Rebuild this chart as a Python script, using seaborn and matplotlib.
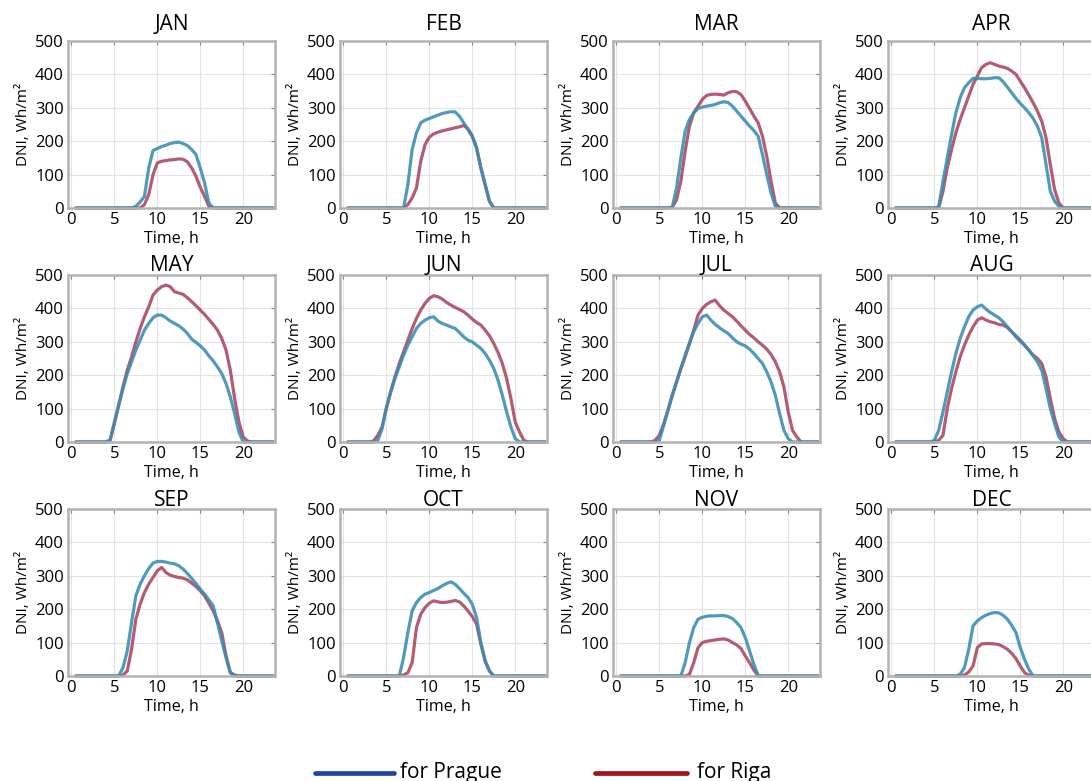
import numpy as np
import pandas as pd
import matplotlib
matplotlib.use("Agg")
import matplotlib.pyplot as plt
from matplotlib.lines import Line2D
import seaborn as sns

# ---------------- data ----------------
time_h = [0.5, 1.0, 1.5, 2.0, 2.5, 3.0, 3.5, 4.0, 4.5, 5.0, 5.5, 6.0, 6.5, 7.0, 7.5, 8.0,
          8.5, 9.0, 9.5, 10.0, 10.5, 11.0, 11.5, 12.0, 12.5, 13.0, 13.5, 14.0, 14.5, 15.0,
          15.5, 16.0, 16.5, 17.0, 17.5, 18.0, 18.5, 19.0, 19.5, 20.0, 20.5, 21.0, 21.5,
          22.0, 22.5, 23.0, 23.5]

months = ["JAN", "FEB", "MAR", "APR", "MAY", "JUN",
          "JUL", "AUG", "SEP", "OCT", "NOV", "DEC"]

legend_labels = ["for Prague", "for Riga"]

prague_jan = [0, 0, 0, 0, 0, 0, 0, 0, 0, 0, 0, 0, 0, 0,
              5, 18, 35, 120, 172, 178, 184, 188, 193, 196, 197, 193, 187, 175, 160, 120, 75, 15, 0,
              0, 0, 0, 0, 0, 0, 0, 0, 0, 0, 0, 0, 0, 0]
riga_jan = [0, 0, 0, 0, 0, 0, 0, 0, 0, 0, 0, 0, 0, 0, 0,
            0, 10, 40, 100, 135, 140, 142, 144, 145, 147, 146, 138, 120, 95, 62, 35, 5, 0,
            0, 0, 0, 0, 0, 0, 0, 0, 0, 0, 0, 0, 0, 0]

prague_feb = [0, 0, 0, 0, 0, 0, 0, 0, 0, 0, 0, 0, 0,
              0, 70, 175, 225, 255, 263, 268, 273, 278, 283, 286, 288, 288, 275, 255, 235, 215,
              180, 120, 70, 20, 0,
              0, 0, 0, 0, 0, 0, 0, 0, 0, 0, 0, 0]
riga_feb = [0, 0, 0, 0, 0, 0, 0, 0, 0, 0, 0, 0, 0,
            0, 10, 30, 60, 140, 190, 212, 222, 227, 231, 234, 237, 240, 243, 247, 237, 215,
            180, 120, 70, 20, 0,
            0, 0, 0, 0, 0, 0, 0, 0, 0, 0, 0, 0]

prague_mar = [0, 0, 0, 0, 0, 0, 0, 0, 0, 0, 0,
              0, 2, 60, 150, 230, 265, 285, 298, 302, 305, 307, 310, 315, 318, 316, 305, 290,
              275, 260, 245, 232, 215, 160, 100, 45, 5, 0,
              0, 0, 0, 0, 0, 0, 0, 0, 0]
riga_mar = [0, 0, 0, 0, 0, 0, 0, 0, 0, 0, 0,
            0, 2, 25, 80, 170, 245, 285, 305, 325, 337, 340, 341, 340, 338, 345, 349, 348,
            340, 320, 298, 275, 255, 215, 155, 80, 15, 0,
            0, 0, 0, 0, 0, 0, 0, 0, 0]

prague_apr = [0, 0, 0, 0, 0, 0, 0, 0, 0,
              0, 3, 80, 150, 220, 285, 330, 360, 375, 388, 388, 387, 387, 388, 390, 390, 378,
              362, 345, 328, 313, 300, 285, 268, 245, 210, 130, 50, 20, 5, 0,
              0, 0, 0, 0, 0, 0, 0]
riga_apr = [0, 0, 0, 0, 0, 0, 0, 0, 0, 0,
            0, 50, 120, 175, 225, 265, 300, 335, 370, 395, 420, 430, 435, 430, 425, 422, 418,
            410, 400, 380, 360, 338, 315, 290, 260, 210, 130, 55, 15, 0,
            0, 0, 0, 0, 0, 0, 0]

prague_may = [0, 0, 0, 0, 0, 0, 0,
              0, 5, 60, 110, 160, 205, 240, 275, 305, 335, 355, 372, 380, 380, 372, 362, 355,
              348, 338, 325, 308, 298, 288, 275, 258, 243, 225, 205, 175, 135, 85, 30, 0,
              0, 0, 0, 0, 0, 0, 0]
riga_may = [0, 0, 0, 0, 0, 0, 0,
            0, 5, 55, 110, 165, 215, 255, 300, 340, 375, 405, 440, 455, 465, 470, 465, 450,
            446, 442, 432, 420, 408, 395, 382, 367, 352, 335, 310, 275, 215, 130, 60, 15, 3, 0,
            0, 0, 0, 0, 0]

prague_jun = [0, 0, 0, 0, 0, 0,
              0, 5, 40, 105, 150, 190, 225, 260, 290, 315, 340, 355, 365, 372, 375, 362, 355,
              350, 345, 340, 328, 315, 305, 300, 290, 280, 265, 245, 220, 185, 140, 90, 45, 10, 0,
              0, 0, 0, 0, 0, 0]
riga_jun = [0, 0, 0, 0, 0,
            0, 3, 20, 45, 100, 150, 195, 235, 270, 305, 340, 370, 395, 415, 430, 438, 435, 428,
            418, 410, 403, 397, 390, 380, 368, 358, 350, 335, 318, 295, 268, 235, 190, 130, 60,
            30, 5, 0,
            0, 0, 0, 0]

prague_jul = [0, 0, 0, 0, 0, 0, 0, 0,
              0, 5, 50, 95, 140, 180, 220, 260, 295, 330, 355, 375, 380, 365, 352, 342, 333,
              325, 312, 300, 293, 288, 278, 265, 250, 235, 210, 180, 140, 85, 35, 10, 0,
              0, 0, 0, 0, 0, 0]
riga_jul = [0, 0, 0, 0, 0, 0, 0,
            0, 5, 20, 55, 95, 140, 180, 220, 255, 295, 335, 380, 400, 412, 420, 425, 408, 395,
            385, 375, 362, 348, 335, 322, 312, 300, 290, 278, 262, 240, 210, 165, 90, 35, 15, 0,
            0, 0, 0, 0]

prague_aug = [0, 0, 0, 0, 0, 0, 0, 0,
              0, 5, 35, 90, 150, 210, 265, 310, 345, 375, 395, 405, 410, 398, 388, 380, 372,
              360, 345, 330, 318, 305, 290, 275, 258, 240, 215, 160, 100, 55, 15, 0,
              0, 0, 0, 0, 0, 0, 0]
riga_aug = [0, 0, 0, 0, 0, 0, 0, 0, 0,
            0, 5, 20, 100, 160, 210, 255, 290, 320, 345, 365, 372, 365, 360, 357, 352, 350,
            343, 330, 315, 302, 290, 275, 260, 250, 235, 195, 130, 70, 30, 10, 0,
            0, 0, 0, 0, 0, 0]

prague_sep = [0, 0, 0, 0, 0, 0, 0, 0, 0, 0,
              0, 25, 75, 160, 240, 275, 300, 322, 338, 343, 343, 341, 338, 336, 330, 320, 307,
              292, 277, 260, 245, 228, 210, 160, 105, 55, 10, 0,
              0, 0, 0, 0, 0, 0, 0, 0, 0]
riga_sep = [0, 0, 0, 0, 0, 0, 0, 0, 0, 0,
            0, 3, 15, 80, 170, 215, 250, 275, 295, 315, 325, 310, 302, 298, 295, 293, 288, 278,
            268, 255, 240, 218, 195, 165, 130, 60, 10, 3, 0,
            0, 0, 0, 0, 0, 0, 0, 0]

prague_oct = [0, 0, 0, 0, 0, 0, 0, 0, 0, 0, 0, 0,
              0, 55, 130, 195, 220, 235, 245, 250, 256, 262, 270, 277, 282, 275, 262, 248, 235,
              215, 175, 100, 45, 15, 0,
              0, 0, 0, 0, 0, 0, 0, 0, 0, 0, 0, 0]
riga_oct = [0, 0, 0, 0, 0, 0, 0, 0, 0, 0, 0, 0,
            0, 3, 10, 40, 145, 185, 205, 218, 225, 222, 220, 221, 223, 226, 222, 210, 195, 178,
            155, 95, 45, 15, 0,
            0, 0, 0, 0, 0, 0, 0, 0, 0, 0, 0, 0]

prague_nov = [0, 0, 0, 0, 0, 0, 0, 0, 0, 0, 0, 0, 0, 0,
              0, 40, 100, 145, 170, 176, 179, 180, 180, 181, 181, 178, 172, 160, 145, 115, 75, 35, 0,
              0, 0, 0, 0, 0, 0, 0, 0, 0, 0, 0, 0, 0, 0]
riga_nov = [0, 0, 0, 0, 0, 0, 0, 0, 0, 0, 0, 0, 0, 0, 0,
            0, 5, 40, 85, 100, 104, 106, 108, 110, 111, 108, 100, 93, 82, 60, 40, 18, 0,
            0, 0, 0, 0, 0, 0, 0, 0, 0, 0, 0, 0, 0, 0]

prague_dec = [0, 0, 0, 0, 0, 0, 0, 0, 0, 0, 0, 0, 0, 0,
              0, 5, 25, 80, 150, 165, 175, 182, 187, 190, 189, 182, 170, 152, 130, 85, 50, 20, 0,
              0, 0, 0, 0, 0, 0, 0, 0, 0, 0, 0, 0, 0, 0]
riga_dec = [0, 0, 0, 0, 0, 0, 0, 0, 0, 0, 0, 0, 0, 0, 0,
            0, 3, 12, 30, 85, 96, 97, 97, 96, 94, 88, 80, 68, 52, 30, 10, 2, 0,
            0, 0, 0, 0, 0, 0, 0, 0, 0, 0, 0, 0, 0, 0]

prague = [prague_jan, prague_feb, prague_mar, prague_apr, prague_may, prague_jun,
          prague_jul, prague_aug, prague_sep, prague_oct, prague_nov, prague_dec]
riga = [riga_jan, riga_feb, riga_mar, riga_apr, riga_may, riga_jun,
        riga_jul, riga_aug, riga_sep, riga_oct, riga_nov, riga_dec]

for m, p, r in zip(months, prague, riga):
    if len(p) != len(time_h) or len(r) != len(time_h):
        raise ValueError(f"{m}: prague {len(p)}, riga {len(r)}, expected {len(time_h)}")

rows = []
for m, p, r in zip(months, prague, riga):
    for t, v in zip(time_h, r):
        rows.append((m, "Riga", t, v))
    for t, v in zip(time_h, p):
        rows.append((m, "Prague", t, v))
df = pd.DataFrame(rows, columns=["month", "city", "time", "dni"])

# ---------------- style ----------------
sns.set_style("white")
plt.rcParams["font.family"] = ["Open Sans", "DejaVu Sans"]
plt.rcParams["text.color"] = "black"
plt.rcParams["axes.labelcolor"] = "black"
plt.rcParams["xtick.color"] = "black"
plt.rcParams["ytick.color"] = "black"

palette = {"Prague": "#3a8cb2", "Riga": "#a9475f"}

W, H = 1091, 781
col_left = [68, 340, 613, 888]
row_top = [41, 275, 509]
ax_w, ax_h = 207, 167
title_pad = [8, 3, 2]

fig = plt.figure(figsize=(W / 100, H / 100), dpi=100)

for i, m in enumerate(months):
    r, c = divmod(i, 4)
    L, T = col_left[c], row_top[r]
    ax = fig.add_axes([L / W, 1 - (T + ax_h) / H, ax_w / W, ax_h / H])
    sub = df[df["month"] == m]
    sns.lineplot(data=sub, x="time", y="dni", hue="city", hue_order=["Riga", "Prague"],
                 palette=palette, ax=ax, legend=False, linewidth=2.3, alpha=0.88,
                 clip_on=False)
    ax.set_xlim(-0.4, 23.7)
    ax.set_ylim(0, 500)
    ax.set_xticks([0, 5, 10, 15, 20])
    ax.set_yticks([0, 100, 200, 300, 400, 500])
    ax.grid(True, color="#e3e3e3", linewidth=0.8)
    ax.set_axisbelow(True)
    for s in ax.spines.values():
        s.set_color("#b2b2b2")
        s.set_linewidth(1.8)
    ax.tick_params(direction="in", length=3, width=0.8, color="#808080",
                   labelcolor="black", top=True, right=True, labelsize=12, pad=3)
    ax.set_title(m, fontsize=15, pad=title_pad[r])
    ax.set_xlabel("Time, h", fontsize=11.5, labelpad=2)
    ax.set_ylabel("DNI, Wh/m²", fontsize=11, labelpad=3)

# legend at the bottom (two handles of different length, as in the reference)
legend_colors = ["#1f44a3", "#9e1518"]
legend_line_px = [(315, 394), (595, 687)]
legend_text_px = [400, 697]
line_y = 1 - 773 / H
for col, (x0, x1), tx, lab in zip(legend_colors, legend_line_px, legend_text_px, legend_labels):
    fig.add_artist(Line2D([x0 / W, x1 / W], [line_y, line_y], color=col,
                          linewidth=3.4, transform=fig.transFigure))
    fig.text(tx / W, 1 - 778 / H, lab, fontsize=15, ha="left", va="baseline")

fig.savefig("out.png", dpi=100)
